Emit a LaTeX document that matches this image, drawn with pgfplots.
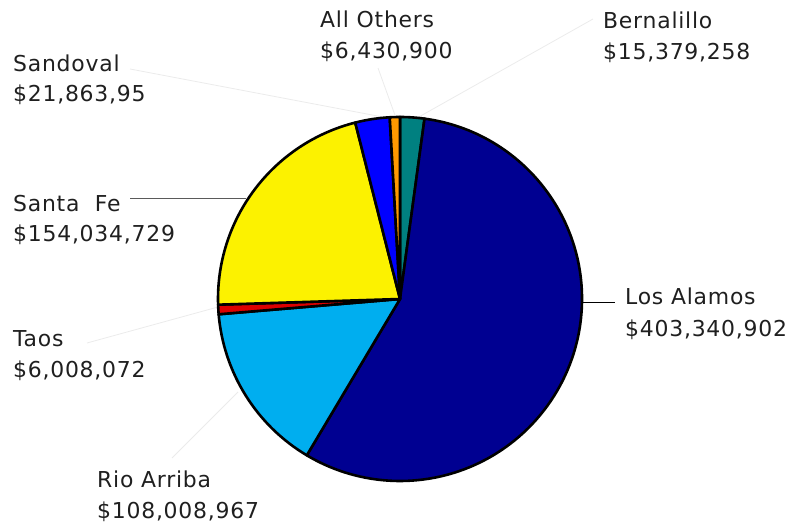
\documentclass[border=0pt]{standalone}
\usepackage{pgfplots}
\pgfplotsset{compat=1.18}
\usepackage{fontspec}
\setmainfont{DejaVu Sans}[LetterSpace=3.5]
\definecolor{cBern}{RGB}{0,128,128}
\definecolor{cLos}{RGB}{0,0,145}
\definecolor{cRio}{RGB}{0,174,239}
\definecolor{cTaos}{RGB}{220,0,0}
\definecolor{cSF}{RGB}{252,242,0}
\definecolor{cSand}{RGB}{0,0,255}
\definecolor{cAll}{RGB}{255,153,0}
\definecolor{faint}{RGB}{235,235,235}
\definecolor{lead}{RGB}{90,90,90}
% values in millions of dollars
\def\vBern{15.379258}
\def\vLos{403.340902}
\def\vRio{108.008967}
\def\vTaos{6.008072}
\def\vSF{154.034729}
\def\vSand{21.86395}
\def\vAll{6.4309}
\begin{document}
\begin{tikzpicture}
\pgfmathsetmacro\total{\vBern+\vLos+\vRio+\vTaos+\vSF+\vSand+\vAll}
\pgfmathsetmacro\aA{90}
\pgfmathsetmacro\aB{\aA-360*(\vBern/\total)}
\pgfmathsetmacro\aC{\aB-360*(\vLos/\total)}
\pgfmathsetmacro\aD{\aC-360*(\vRio/\total)}
\pgfmathsetmacro\aE{\aD-360*(\vTaos/\total)}
\pgfmathsetmacro\aF{\aE-360*(\vSF/\total)}
\pgfmathsetmacro\aG{\aF-360*(\vSand/\total)}
\pgfmathsetmacro\aH{\aG-360*(\vAll/\total)}
\begin{axis}[axis lines=none, ticks=none, scale only axis, width=797bp, height=523bp,
  xmin=0, xmax=797, ymin=0, ymax=523, clip=false]
\addplot[draw=none, forget plot] coordinates {(0,0) (797,523)};
% leader lines
\draw[faint, line width=0.8bp] (axis cs:130,454) -- (axis cs:388,405);
\draw[faint, line width=0.8bp] (axis cs:378,455) -- (axis cs:396,405);
\draw[faint, line width=0.8bp] (axis cs:593,504) -- (axis cs:417,405);
\draw[faint, line width=0.8bp] (axis cs:87,180) -- (axis cs:218,216);
\draw[faint, line width=0.8bp] (axis cs:172,65) -- (axis cs:238,131);
\draw[lead, line width=1bp] (axis cs:130,324) -- (axis cs:246,324);
\draw[black, line width=1bp] (axis cs:568,220) -- (axis cs:615,220);
% slices
\newcommand\slice[3]{\filldraw[fill=#1, draw=black, line width=2.6bp, line join=round]
  (axis cs:400,224) -- ++(#2:182bp) arc[start angle=#2, end angle=#3, radius=182bp] -- cycle;}
\slice{cBern}{\aA}{\aB}
\slice{cLos}{\aB}{\aC}
\slice{cRio}{\aC}{\aD}
\slice{cTaos}{\aD}{\aE}
\slice{cSF}{\aE}{\aF}
\slice{cSand}{\aF}{\aG}
\slice{cAll}{\aG}{\aH}
% labels
\newcommand\lab[5]{%
  \node[anchor=base west, inner sep=0pt, font=\fontsize{22}{25}\selectfont, text=black!88] at (axis cs:#1,#2) {#4};
  \node[anchor=base west, inner sep=0pt, font=\fontsize{22}{25}\selectfont, text=black!88] at (axis cs:#1,#3) {#5};}
\lab{13}{451}{421}{Sandoval}{\$21,863,95}
\lab{320}{495}{464}{All Others}{\$6,430,900}
\lab{603}{494}{463}{Bernalillo}{\$15,379,258}
\lab{13}{311}{281}{Santa\ \ Fe}{\$154,034,729}
\lab{13}{176}{145}{Taos}{\$6,008,072}
\lab{625}{218}{186}{Los Alamos}{\$403,340,902}
\lab{97}{35}{5}{Rio Arriba}{\$108,008,967}
\end{axis}
\end{tikzpicture}
\end{document}
